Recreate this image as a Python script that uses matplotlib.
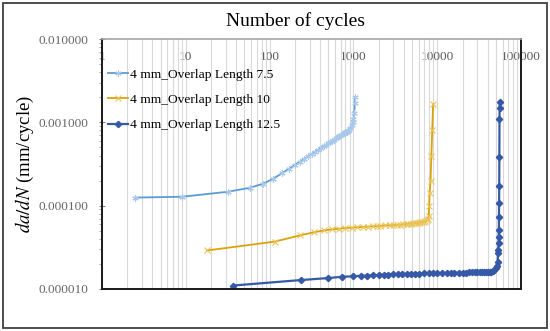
import matplotlib
matplotlib.use('Agg')
import matplotlib.pyplot as plt
from matplotlib.patches import Rectangle
from matplotlib.ticker import LogLocator, NullFormatter, FixedLocator, FixedFormatter

plt.rcParams['font.family'] = ['Liberation Serif', 'DejaVu Serif']
plt.rcParams['mathtext.fontset'] = 'stix'

# data: cycles N and crack growth rate da/dN (mm/cycle)
n_75 = [2.5, 9, 32, 58, 83, 110, 140, 170, 200, 230, 260, 290, 320, 350, 380,
        410, 440, 470, 500, 530, 560, 590, 620, 650, 680, 710, 740, 770, 800,
        830, 860, 890, 920, 950, 980, 1000, 1020, 1040, 1050]
dadn_75 = [1.25e-4, 1.28e-4, 1.47e-4, 1.64e-4, 1.83e-4, 2.1e-4, 2.45e-4, 2.77e-4,
           3.08e-4, 3.37e-4, 3.65e-4, 3.92e-4, 4.18e-4, 4.43e-4, 4.68e-4, 4.9e-4,
           5.14e-4, 5.37e-4, 5.59e-4, 5.8e-4, 6.0e-4, 6.22e-4, 6.42e-4, 6.62e-4,
           6.82e-4, 7.0e-4, 7.2e-4, 7.4e-4, 7.57e-4, 7.75e-4, 7.95e-4, 8.2e-4,
           8.6e-4, 9.2e-4, 1.0e-3, 1.1e-3, 1.3e-3, 1.7e-3, 2.0e-3]

n_10 = [18, 115, 230, 340, 450, 560, 680, 800, 950, 1100, 1300, 1500, 1700, 1900,
        2100, 2400, 2700, 3000, 3300, 3600, 3900, 4200, 4500, 4800, 5100, 5400,
        5700, 6000, 6300, 6600, 6900, 7200, 7500, 7700, 7900, 8000, 8100, 8300,
        8500, 8700, 8900]
dadn_10 = [2.9e-5, 3.7e-5, 4.4e-5, 4.8e-5, 5.05e-5, 5.2e-5, 5.3e-5, 5.4e-5, 5.45e-5,
           5.5e-5, 5.55e-5, 5.6e-5, 5.65e-5, 5.7e-5, 5.72e-5, 5.78e-5, 5.82e-5,
           5.86e-5, 5.9e-5, 5.92e-5, 5.95e-5, 6.0e-5, 6.05e-5, 6.1e-5, 6.12e-5,
           6.15e-5, 6.2e-5, 6.25e-5, 6.3e-5, 6.35e-5, 6.4e-5, 6.5e-5, 6.7e-5,
           7.0e-5, 7.5e-5, 1.0e-4, 1.4e-4, 2.0e-4, 4.0e-4, 8.0e-4, 1.65e-3]

n_125 = [37, 237, 490, 730, 990, 1240, 1450, 1700, 2000, 2300, 2600, 3000, 3400,
         3800, 4300, 4800, 5400, 6000, 7000, 8000, 9000, 10000, 11500, 13000,
         14500, 16000, 18000, 20000, 22000, 24000, 26000, 28000, 30000, 32000,
         34000, 36000, 38000, 40000, 42000, 44000, 46000, 48000, 50000, 51500,
         52500, 53200, 53500, 53800, 54000, 54200, 54400, 54600, 54800, 55000,
         55200, 55400, 55500]
dadn_125 = [1.1e-5, 1.28e-5, 1.35e-5, 1.4e-5, 1.42e-5, 1.44e-5, 1.45e-5, 1.46e-5,
            1.47e-5, 1.48e-5, 1.49e-5, 1.5e-5, 1.5e-5, 1.51e-5, 1.52e-5, 1.52e-5,
            1.53e-5, 1.53e-5, 1.54e-5, 1.54e-5, 1.55e-5, 1.55e-5, 1.55e-5, 1.56e-5,
            1.56e-5, 1.56e-5, 1.57e-5, 1.57e-5, 1.57e-5, 1.58e-5, 1.58e-5, 1.58e-5,
            1.59e-5, 1.59e-5, 1.59e-5, 1.6e-5, 1.6e-5, 1.6e-5, 1.61e-5, 1.62e-5,
            1.65e-5, 1.7e-5, 1.8e-5, 1.88e-5, 2.1e-5, 2.7e-5, 2.9e-5, 3.55e-5,
            4.2e-5, 5.1e-5, 7.3e-5, 1.07e-4, 1.7e-4, 3.8e-4, 1.1e-3, 1.5e-3, 1.75e-3]

labels = ['4 mm_Overlap Length 7.5', '4 mm_Overlap Length 10', '4 mm_Overlap Length 12.5']
x_ticks = [1, 10, 100, 1000, 10000, 100000]
y_ticks = [1e-5, 1e-4, 1e-3, 1e-2]
y_ticklabels = ['0.000010', '0.000100', '0.001000', '0.010000']

fig = plt.figure(figsize=(5.5, 3.31), dpi=100)
ax = fig.add_axes([0.1855, 0.127, 0.762, 0.755])

# outer frame
fig.patches.append(Rectangle((0.006, 0.009), 0.988, 0.982, transform=fig.transFigure,
                             fill=False, edgecolor='#404040', linewidth=1.3))

ax.plot(n_75, dadn_75, color='#5B9BD5', lw=1.3, marker=(6, 2, 0), ms=4.5,
        mec='#A9C9EA', mew=0.8, label=labels[0])
ax.plot(n_10, dadn_10, color='#DBA20A', lw=1.3, marker='x', ms=4,
        mec='#EBC458', mew=0.8, label=labels[1])
ax.plot(n_125, dadn_125, color='#3559A8', lw=1.6, marker='D', ms=3.2,
        mec='#3559A8', mfc='#3559A8', label=labels[2])

ax.set_xscale('log')
ax.set_yscale('log')
ax.set_xlim(1, 100000)
ax.set_ylim(1e-5, 1e-2)

# x axis on top, labels inside the plot
ax.xaxis.tick_top()
ax.xaxis.set_major_locator(FixedLocator(x_ticks))
ax.xaxis.set_major_formatter(FixedFormatter([str(v) for v in x_ticks]))
ax.xaxis.set_minor_locator(LogLocator(base=10, subs=range(2, 10), numticks=20))
ax.xaxis.set_minor_formatter(NullFormatter())
ax.tick_params(axis='x', which='both', length=0, pad=-17, labelsize=9.5,
               labelcolor='#595959')

ax.yaxis.set_major_locator(FixedLocator(y_ticks))
ax.yaxis.set_major_formatter(FixedFormatter(y_ticklabels))
ax.yaxis.set_minor_locator(LogLocator(base=10, subs=range(2, 10), numticks=20))
ax.yaxis.set_minor_formatter(NullFormatter())
ax.tick_params(axis='y', which='major', length=5, direction='inout', pad=7,
               labelsize=9.5, labelcolor='#666666', color='#808080')
ax.tick_params(axis='y', which='minor', length=2.5, direction='out', color='#A0A0A0')

ax.grid(axis='x', which='both', color='#D9D9D9', lw=0.8)
ax.set_axisbelow(True)

for side in ['left', 'bottom', 'right']:
    ax.spines[side].set_color('#1A1A1A')
    ax.spines[side].set_linewidth(1.4)
ax.spines['top'].set_color('#A6A6A6')
ax.spines['top'].set_linewidth(1.2)

fig.text(0.538, 0.935, 'Number of cycles', ha='center', va='center', fontsize=14)
ax.set_ylabel('$da/dN$ (mm/cycle)', fontsize=13.5, labelpad=2)

ax.legend(loc='upper left', bbox_to_anchor=(-0.005, 0.915), frameon=False,
          fontsize=9.7, handlelength=1.5, handletextpad=0.15, labelspacing=0.95,
          borderaxespad=0.2)

plt.savefig('out.png', dpi=100)
